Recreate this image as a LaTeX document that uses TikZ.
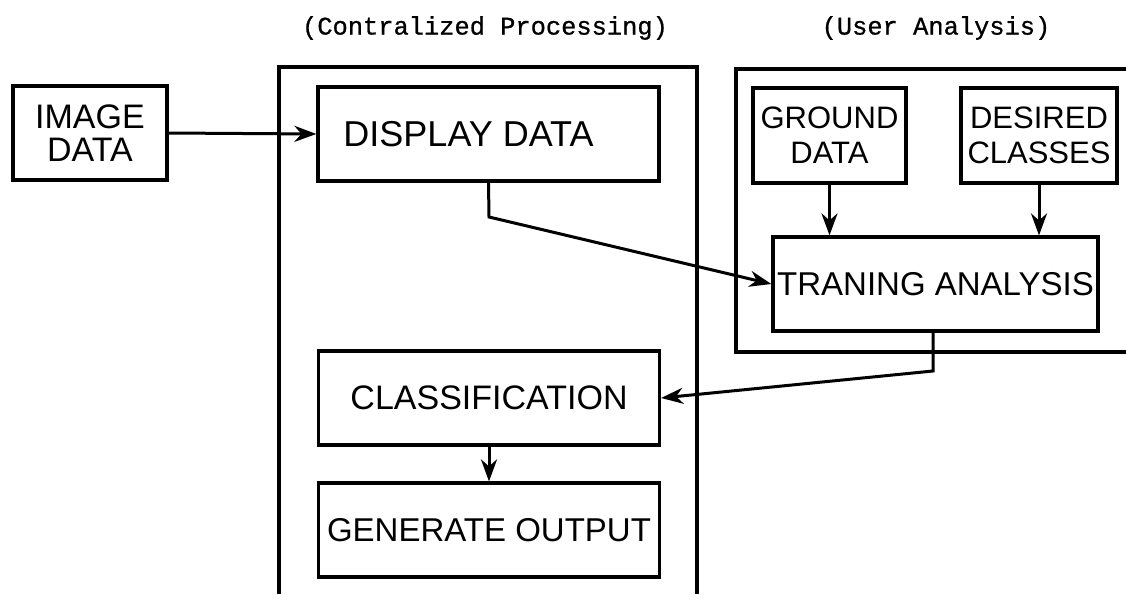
\documentclass[tikz,border=0pt]{standalone}
\usepackage{fontspec}
\setmainfont{Liberation Sans}
\newfontfamily\typewriter[FakeBold=0.8]{Liberation Mono}
\usetikzlibrary{arrows.meta}
\begin{document}
\begin{tikzpicture}[x=1pt,y=-1pt,
  line width=3.2pt,
  blk/.style={draw, line width=3.2pt, inner sep=0pt, align=center, font=\fontsize{33}{34}\selectfont},
  frame/.style={line width=3.2pt},
  flow/.style={line width=3pt, -{Stealth[length=22pt,width=16pt,inset=7pt]}},
  heading/.style={font=\typewriter\fontsize{25.4}{28}\selectfont}]
\useasboundingbox (0,0) rectangle (1126,594);

% group frames
\draw[frame] (279,594) -- (279,67) -- (697,67) -- (697,594);
\draw[frame] (1126,69) -- (736,69) -- (736,352) -- (1126,352);

% group headings
\node[heading] (hcent) at (485,28) {(Contralized Processing)};
\node[heading] (huser) at (936,28) {(User Analysis)};

% blocks
\node[blk, minimum width=154pt, minimum height=94pt, font=\fontsize{34}{33}\selectfont] (img) at (90,133) {IMAGE\\DATA};
\node[blk, minimum width=341pt, minimum height=94pt, font=\fontsize{36}{36}\selectfont] (disp) at (488.5,134) {DISPLAY DATA\hspace*{40pt}};
\node[blk, minimum width=153pt, minimum height=95pt, font=\fontsize{31}{35}\selectfont] (ground) at (829.5,135.5) {GROUND\\DATA};
\node[blk, minimum width=156pt, minimum height=95pt, font=\fontsize{31}{35}\selectfont] (desired) at (1039,135.5) {DESIRED\\CLASSES};
\node[blk, minimum width=325pt, minimum height=94pt] (train) at (935.5,284) {TRANING ANALYSIS};
\node[blk, minimum width=341pt, minimum height=94pt, font=\fontsize{34}{34}\selectfont] (cls) at (489,398) {CLASSIFICATION};
\node[blk, minimum width=341pt, minimum height=94pt] (gen) at (489,530) {GENERATE OUTPUT};

% connectors
\coordinate (dbend) at (489,217);
\coordinate (tbend) at (933,371);
\draw[flow] (img.east) -- (disp.west);
\draw[flow] (disp.south) -- (dbend) -- (train.west);
\draw[flow] (ground.south) -- (ground.south |- train.north);
\draw[flow] (desired.south) -- (desired.south |- train.north);
\draw[flow] (train.south -| tbend) -- (tbend) -- (cls.east);
\draw[flow] (cls.south) -- (gen.north);
\end{tikzpicture}
\end{document}
